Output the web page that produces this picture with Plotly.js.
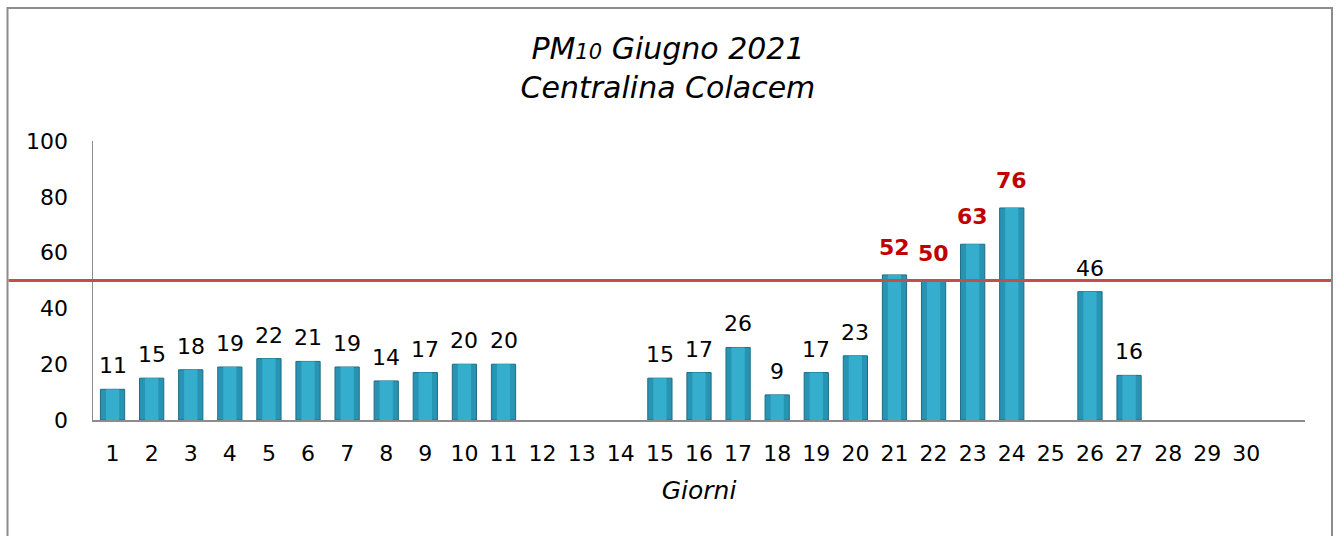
<!DOCTYPE html>
<html><head><meta charset="utf-8">
<script src="https://cdn.plot.ly/plotly-3.0.1.min.js"></script>
<style>html,body{margin:0;padding:0;background:#fff}#chart{width:1344px;height:536px}</style>
</head><body><div id="chart"></div>
<script>
const days = [1,2,3,4,5,6,7,8,9,10,11,12,13,14,15,16,17,18,19,20,21,22,23,24,25,26,27,28,29,30];
const pm10 = [11,15,18,19,22,21,19,14,17,20,20,null,null,null,15,17,26,9,17,23,52,50,63,76,null,46,16,null,null,null];
const tickLabels = days.map(String);
const limit = 50;
const titleText = "PM<span style='font-size:21px'>10</span> Giugno 2021<br>Centralina Colacem";
const xTitle = "Giorni";

const FONT = 'DejaVu Sans, sans-serif';

const bars = {
  type: 'bar',
  x: days,
  y: pm10,
  width: 0.62,
  marker: {color: '#2894B3', line: {color: '#1D6C84', width: 1}},
  hoverinfo: 'x+y'
};
const barsHighlight = {
  type: 'bar',
  x: days,
  y: pm10,
  width: 0.34,
  marker: {color: '#35ADCC', line: {width: 0}},
  hoverinfo: 'skip'
};

const labels = [];
days.forEach((d, i) => {
  const v = pm10[i];
  if (v === null) return;
  const over = v >= limit;
  labels.push({
    x: d, y: v, xref: 'x', yref: 'y',
    text: over ? '<b>' + v + '</b>' : String(v),
    showarrow: false, yanchor: 'bottom', yshift: over ? 13 : 9,
    font: {family: FONT, size: 22, color: over ? '#C00000' : '#000000'}
  });
});

const layout = {
  width: 1344, height: 536,
  margin: {l: 93, r: 39, t: 141, b: 116},
  paper_bgcolor: '#fff', plot_bgcolor: '#fff',
  showlegend: false,
  barmode: 'overlay',
  title: {
    text: titleText,
    font: {family: FONT, size: 30, style: 'italic', color: '#000'},
    x: 0.497, xanchor: 'center', y: 0.89, yanchor: 'top', yref: 'container'
  },
  xaxis: {
    range: [0.5, 31.5],
    tickvals: days, ticktext: tickLabels,
    showgrid: false, zeroline: false,
    showline: true, linecolor: '#8c8c8c', linewidth: 1.5,
    ticks: '', ticklabelstandoff: 13,
    tickfont: {family: FONT, size: 22, color: '#000'},
    title: {text: xTitle, standoff: 16, font: {family: FONT, size: 25, style: 'italic', color: '#000'}}
  },
  yaxis: {
    range: [0, 100], tickvals: [0,20,40,60,80,100],
    showgrid: false, zeroline: false,
    showline: true, linecolor: '#8c8c8c', linewidth: 1.5,
    ticks: '', ticklabelstandoff: 19,
    tickfont: {family: FONT, size: 22, color: '#000'}
  },
  annotations: labels,
  shapes: [
    {type: 'rect', xref: 'paper', yref: 'paper',
     x0: (7.5-93)/1212, x1: (1332-93)/1212, y0: -0.6, y1: (420-8)/279,
     line: {color: '#8c8c8c', width: 2}, fillcolor: 'rgba(0,0,0,0)', layer: 'below'},
    {type: 'line', xref: 'paper', yref: 'y',
     x0: (8.5-93)/1212, x1: (1331-93)/1212, y0: limit, y1: limit,
     line: {color: '#C0504D', width: 3}, layer: 'above'}
  ]
};

Plotly.newPlot('chart', [bars, barsHighlight], layout, {displayModeBar: false, staticPlot: true});
</script></body></html>
